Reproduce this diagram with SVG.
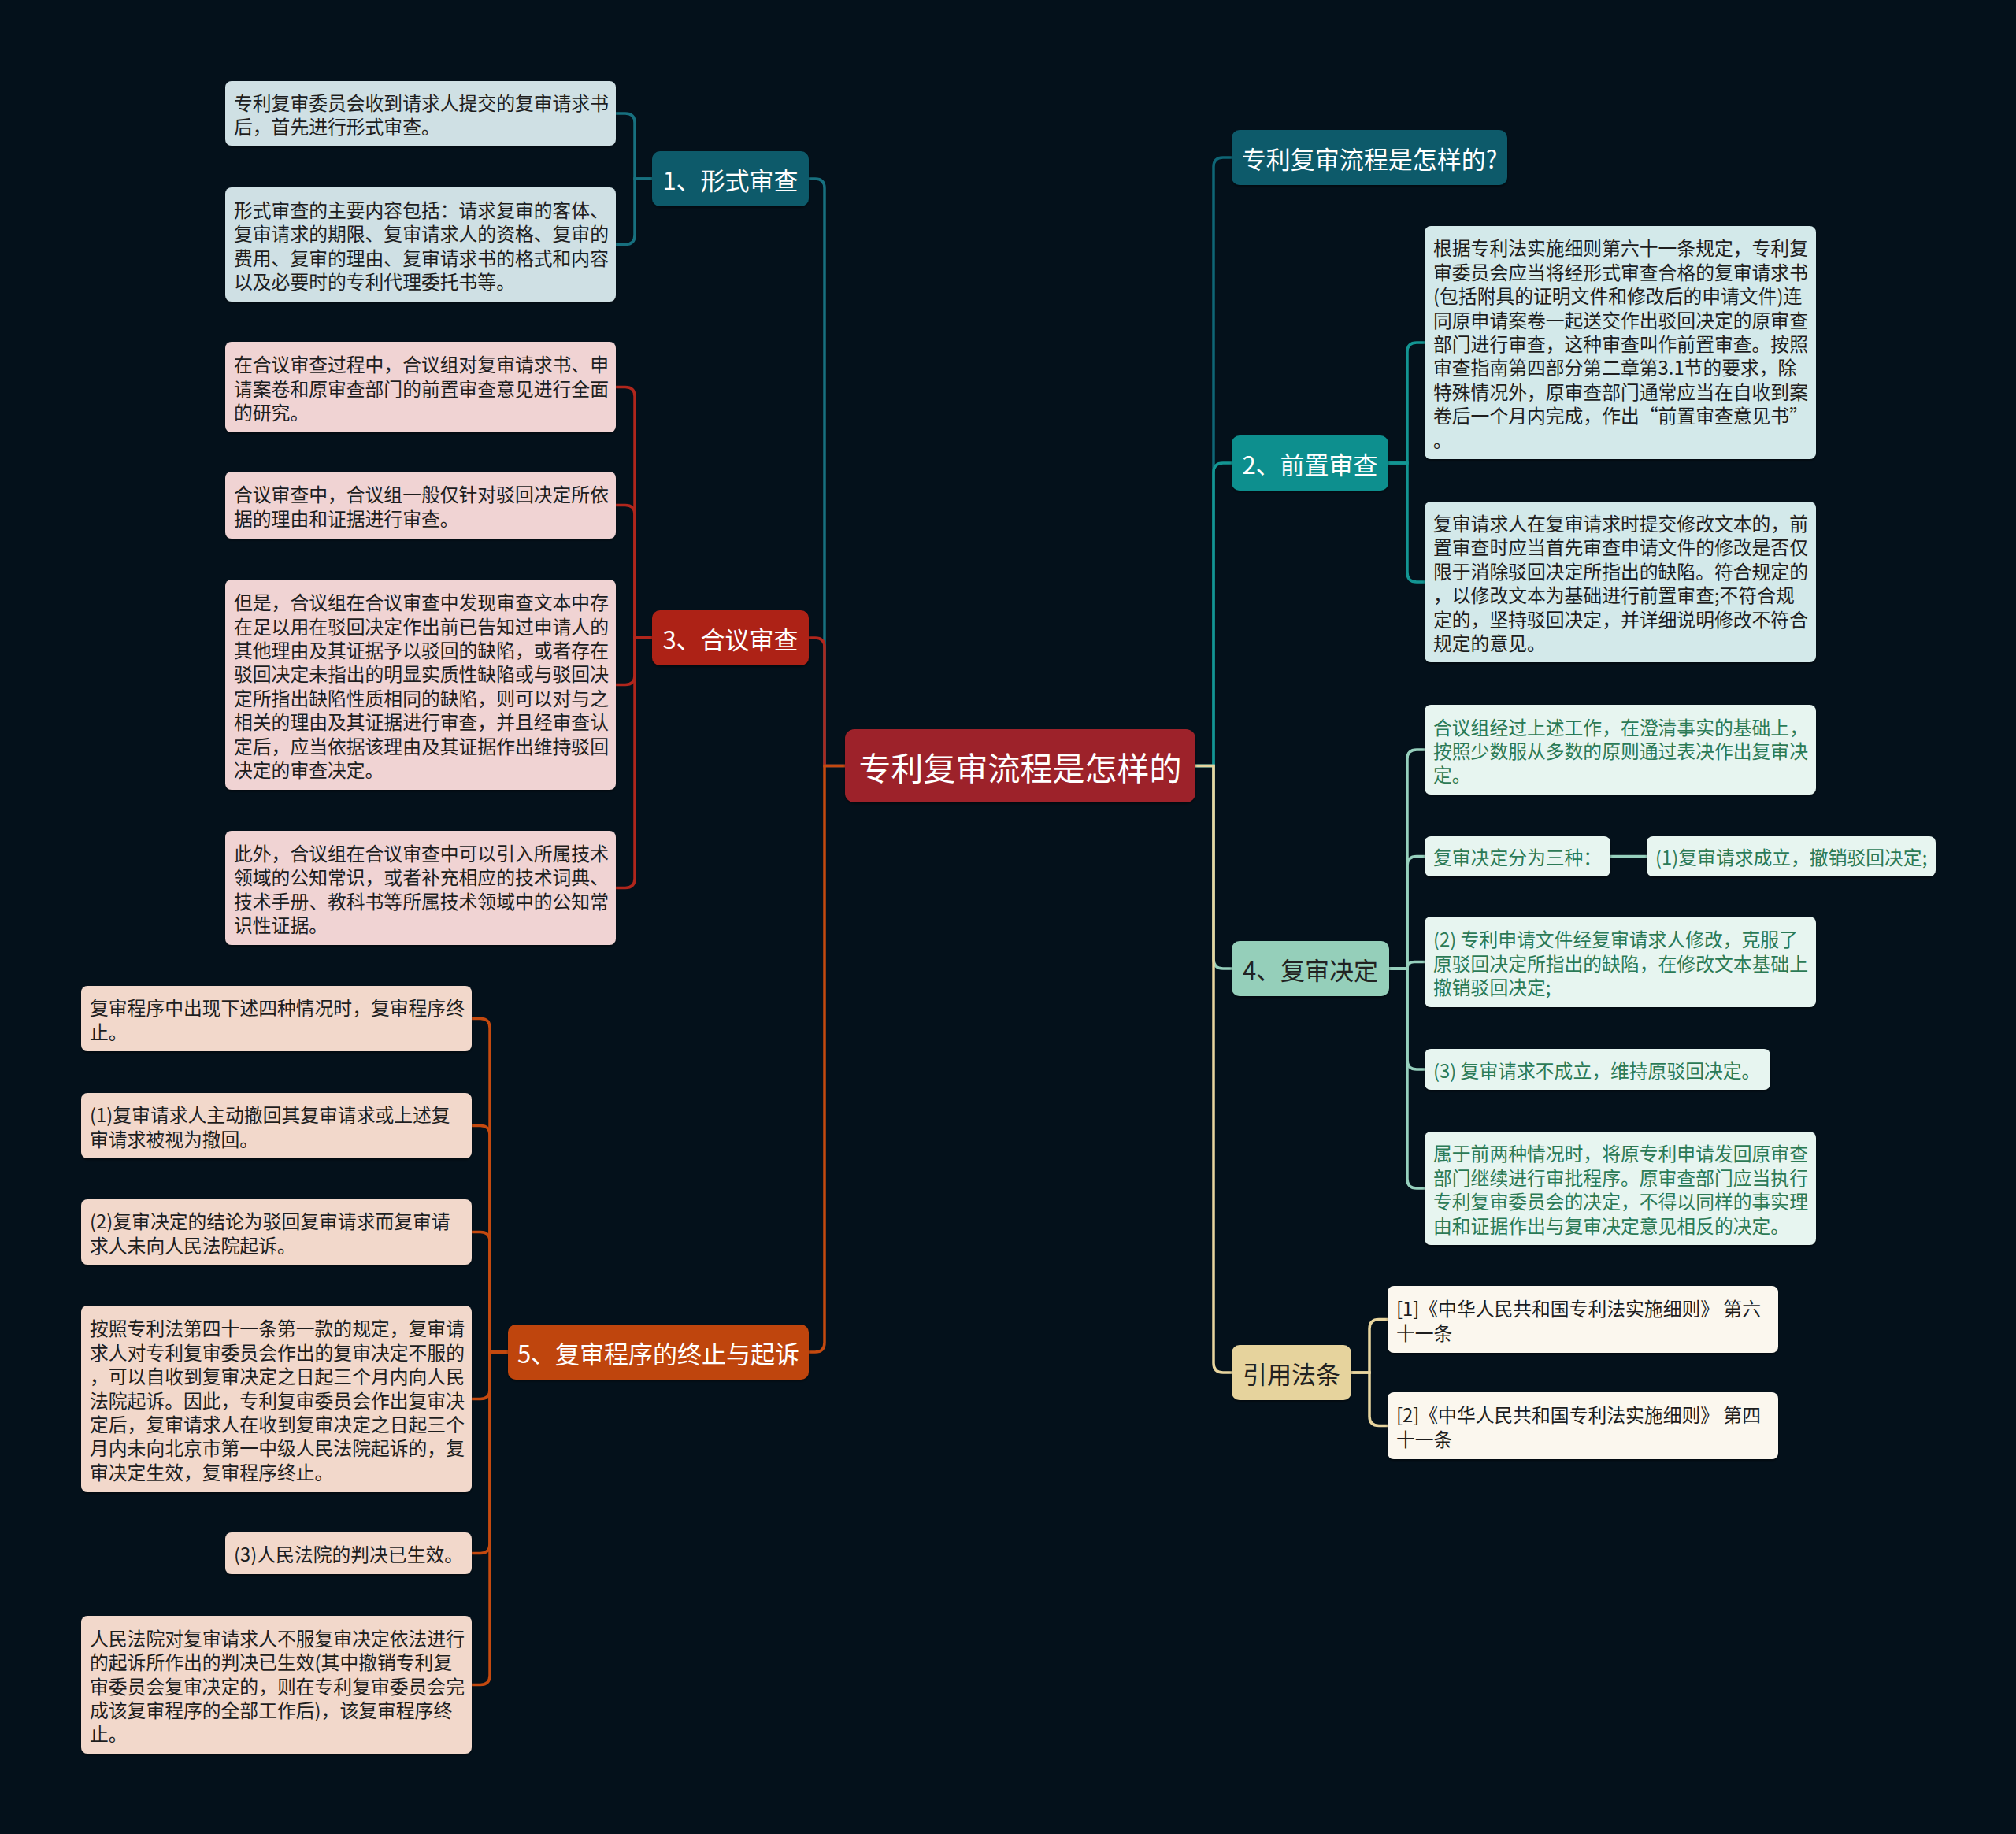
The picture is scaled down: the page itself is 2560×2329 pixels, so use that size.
<svg xmlns="http://www.w3.org/2000/svg" width="2560" height="2329" viewBox="0 0 2560 2329">
<defs>
<filter id="sh" x="-5%" y="-10%" width="110%" height="130%"><feDropShadow dx="0" dy="2" stdDeviation="1.5" flood-color="#000" flood-opacity="0.45"/></filter>
</defs>
<style>
text{font-family:"Noto Sans CJK SC","Noto Sans",sans-serif;dominant-baseline:central}
.c{fill:none;stroke-width:3.5;stroke-linecap:round}
.lf{font-size:23.8px;fill:#1e1e1e}
.lg{font-size:23.8px;fill:#2b7a56}
.br{font-size:31px;text-anchor:middle;fill:#fff}
.brd{font-size:31px;text-anchor:middle;fill:#222}
.l1{fill:#cfe0e4}.l3{fill:#f0d3d3}.l5{fill:#f2d8cb}.l2{fill:#d3e9ea}.l4{fill:#e7f5f0}.lr{fill:#fbf7ee}
</style>
<rect width="2560" height="2329" fill="#04111b"/>

<g id="connectors">
<path class="c" stroke="#17707f" d="M1073,972.5 H1047 V239 Q1047,227 1035,227 H1027"/>
<path class="c" stroke="#b0261c" d="M1073,972.5 H1047 V822 Q1047,810 1035,810 H1027"/>
<path class="c" stroke="#c4490f" d="M1073,972.5 H1047 V1705 Q1047,1717 1035,1717 H1027"/>
<path class="c" stroke="#0e6676" d="M1518,972.5 H1541 V212 Q1541,200 1553,200 H1564"/>
<path class="c" stroke="#139593" d="M1518,972.5 H1541 V600 Q1541,588 1553,588 H1564"/>
<path class="c" stroke="#96d0bd" d="M1518,972.5 H1541 V1218 Q1541,1230 1553,1230 H1564"/>
<path class="c" stroke="#e8d59e" d="M1518,972.5 H1541 V1731 Q1541,1743 1553,1743 H1564"/>

<path class="c" stroke="#17707f" d="M828,227 H806 V156 Q806,144 794,144 H782"/>
<path class="c" stroke="#17707f" d="M828,227 H806 V298.5 Q806,310.5 794,310.5 H782"/>

<path class="c" stroke="#b0261c" d="M828,810 H806 V503.5 Q806,491.5 794,491.5 H782"/>
<path class="c" stroke="#b0261c" d="M828,810 H806 V653.5 Q806,641.5 794,641.5 H782"/>
<path class="c" stroke="#b0261c" d="M828,810 H806 V857.5 Q806,869.5 794,869.5 H782"/>
<path class="c" stroke="#b0261c" d="M828,810 H806 V1115.5 Q806,1127.5 794,1127.5 H782"/>

<path class="c" stroke="#c4490f" d="M645,1717 H622 V1305.5 Q622,1293.5 610,1293.5 H599"/>
<path class="c" stroke="#c4490f" d="M645,1717 H622 V1441.5 Q622,1429.5 610,1429.5 H599"/>
<path class="c" stroke="#c4490f" d="M645,1717 H622 V1576.5 Q622,1564.5 610,1564.5 H599"/>
<path class="c" stroke="#c4490f" d="M645,1717 H622 V1764.5 Q622,1776.5 610,1776.5 H599"/>
<path class="c" stroke="#c4490f" d="M645,1717 H622 V1960.5 Q622,1972.5 610,1972.5 H599"/>
<path class="c" stroke="#c4490f" d="M645,1717 H622 V2127.5 Q622,2139.5 610,2139.5 H599"/>

<path class="c" stroke="#139593" d="M1763,588 H1787 V447 Q1787,435 1799,435 H1809"/>
<path class="c" stroke="#139593" d="M1763,588 H1787 V727 Q1787,739 1799,739 H1809"/>

<path class="c" stroke="#96d0bd" d="M1764,1230 H1787 V964 Q1787,952 1799,952 H1809"/>
<path class="c" stroke="#96d0bd" d="M1764,1230 H1787 V1099.5 Q1787,1087.5 1799,1087.5 H1809"/>
<path class="c" stroke="#96d0bd" d="M1764,1230 H1787 Q1787,1221.5 1795.5,1221.5 H1809"/>
<path class="c" stroke="#96d0bd" d="M1764,1230 H1787 V1346 Q1787,1358 1799,1358 H1809"/>
<path class="c" stroke="#96d0bd" d="M1764,1230 H1787 V1497 Q1787,1509 1799,1509 H1809"/>
<path class="c" stroke="#96d0bd" d="M2045,1087.5 H2091"/>

<path class="c" stroke="#e8d59e" d="M1716,1743 H1739 V1687.5 Q1739,1675.5 1751,1675.5 H1762"/>
<path class="c" stroke="#e8d59e" d="M1716,1743 H1739 V1798.5 Q1739,1810.5 1751,1810.5 H1762"/>
</g>

<g id="center">
<rect x="1073" y="926" width="445" height="93" rx="12" fill="#9d2329" filter="url(#sh)"/>
<text x="1295.5" y="972.5" font-size="41" text-anchor="middle" fill="#fff">专利复审流程是怎样的</text>
</g>

<g id="node-1">
<rect x="828" y="192" width="199" height="70" rx="10" fill="#0c5a6a" filter="url(#sh)"/>
<text class="br" x="927.5" y="227">1、形式审查</text>
</g>
<g id="leaf-1a">
<rect class="l1" x="286" y="103" width="496" height="82" rx="8" filter="url(#sh)"/>
<text class="lf"><tspan x="297" y="128.8">专利复审委员会收到请求人提交的复审请求书</tspan><tspan x="297" y="159.2">后，首先进行形式审查。</tspan></text>
</g>
<g id="leaf-1b">
<rect class="l1" x="286" y="238" width="496" height="145" rx="8" filter="url(#sh)"/>
<text class="lf"><tspan x="297" y="264.9">形式审查的主要内容包括：请求复审的客体、</tspan><tspan x="297" y="295.3">复审请求的期限、复审请求人的资格、复审的</tspan><tspan x="297" y="325.7">费用、复审的理由、复审请求书的格式和内容</tspan><tspan x="297" y="356.1">以及必要时的专利代理委托书等。</tspan></text>
</g>

<g id="node-3">
<rect x="828" y="775" width="199" height="70" rx="10" fill="#ad2116" filter="url(#sh)"/>
<text class="br" x="927.5" y="810">3、合议审查</text>
</g>
<g id="leaf-3a">
<rect class="l3" x="286" y="434" width="496" height="115" rx="8" filter="url(#sh)"/>
<text class="lf"><tspan x="297" y="461.1">在合议审查过程中，合议组对复审请求书、申</tspan><tspan x="297" y="491.5">请案卷和原审查部门的前置审查意见进行全面</tspan><tspan x="297" y="521.9">的研究。</tspan></text>
</g>
<g id="leaf-3b">
<rect class="l3" x="286" y="599" width="496" height="85" rx="8" filter="url(#sh)"/>
<text class="lf"><tspan x="297" y="626.3">合议审查中，合议组一般仅针对驳回决定所依</tspan><tspan x="297" y="656.7">据的理由和证据进行审查。</tspan></text>
</g>
<g id="leaf-3c">
<rect class="l3" x="286" y="736" width="496" height="267" rx="8" filter="url(#sh)"/>
<text class="lf"><tspan x="297" y="763.1">但是，合议组在合议审查中发现审查文本中存</tspan><tspan x="297" y="793.5">在足以用在驳回决定作出前已告知过申请人的</tspan><tspan x="297" y="823.9">其他理由及其证据予以驳回的缺陷，或者存在</tspan><tspan x="297" y="854.3">驳回决定未指出的明显实质性缺陷或与驳回决</tspan><tspan x="297" y="884.7">定所指出缺陷性质相同的缺陷，则可以对与之</tspan><tspan x="297" y="915.1">相关的理由及其证据进行审查，并且经审查认</tspan><tspan x="297" y="945.5">定后，应当依据该理由及其证据作出维持驳回</tspan><tspan x="297" y="975.9">决定的审查决定。</tspan></text>
</g>
<g id="leaf-3d">
<rect class="l3" x="286" y="1055" width="496" height="145" rx="8" filter="url(#sh)"/>
<text class="lf"><tspan x="297" y="1081.9">此外，合议组在合议审查中可以引入所属技术</tspan><tspan x="297" y="1112.3">领域的公知常识，或者补充相应的技术词典、</tspan><tspan x="297" y="1142.7">技术手册、教科书等所属技术领域中的公知常</tspan><tspan x="297" y="1173.1">识性证据。</tspan></text>
</g>

<g id="node-5">
<rect x="645" y="1682" width="382" height="70" rx="10" fill="#bf450d" filter="url(#sh)"/>
<text class="br" x="836" y="1717">5、复审程序的终止与起诉</text>
</g>
<g id="leaf-5a">
<rect class="l5" x="103" y="1252" width="496" height="83" rx="8" filter="url(#sh)"/>
<text class="lf"><tspan x="114" y="1278.3">复审程序中出现下述四种情况时，复审程序终</tspan><tspan x="114" y="1308.7">止。</tspan></text>
</g>
<g id="leaf-5b">
<rect class="l5" x="103" y="1388" width="496" height="83" rx="8" filter="url(#sh)"/>
<text class="lf"><tspan x="114" y="1414.3">(1)复审请求人主动撤回其复审请求或上述复</tspan><tspan x="114" y="1444.7">审请求被视为撤回。</tspan></text>
</g>
<g id="leaf-5c">
<rect class="l5" x="103" y="1523" width="496" height="83" rx="8" filter="url(#sh)"/>
<text class="lf"><tspan x="114" y="1549.3">(2)复审决定的结论为驳回复审请求而复审请</tspan><tspan x="114" y="1579.7">求人未向人民法院起诉。</tspan></text>
</g>
<g id="leaf-5d">
<rect class="l5" x="103" y="1658" width="496" height="237" rx="8" filter="url(#sh)"/>
<text class="lf"><tspan x="114" y="1685.3">按照专利法第四十一条第一款的规定，复审请</tspan><tspan x="114" y="1715.7">求人对专利复审委员会作出的复审决定不服的</tspan><tspan x="114" y="1746.1">，可以自收到复审决定之日起三个月内向人民</tspan><tspan x="114" y="1776.5">法院起诉。因此，专利复审委员会作出复审决</tspan><tspan x="114" y="1806.9">定后，复审请求人在收到复审决定之日起三个</tspan><tspan x="114" y="1837.3">月内未向北京市第一中级人民法院起诉的，复</tspan><tspan x="114" y="1867.7">审决定生效，复审程序终止。</tspan></text>
</g>
<g id="leaf-5e">
<rect class="l5" x="286" y="1946" width="313" height="53" rx="8" filter="url(#sh)"/>
<text class="lf" x="297" y="1972.5">(3)人民法院的判决已生效。</text>
</g>
<g id="leaf-5f">
<rect class="l5" x="103" y="2052" width="496" height="175" rx="8" filter="url(#sh)"/>
<text class="lf"><tspan x="114" y="2078.7">人民法院对复审请求人不服复审决定依法进行</tspan><tspan x="114" y="2109.1">的起诉所作出的判决已生效(其中撤销专利复</tspan><tspan x="114" y="2139.5">审委员会复审决定的，则在专利复审委员会完</tspan><tspan x="114" y="2169.9">成该复审程序的全部工作后)，该复审程序终</tspan><tspan x="114" y="2200.3">止。</tspan></text>
</g>

<g id="node-q">
<rect x="1564" y="165" width="350" height="70" rx="10" fill="#0c5a6a" filter="url(#sh)"/>
<text class="br" x="1739" y="200">专利复审流程是怎样的?</text>
</g>

<g id="node-2">
<rect x="1564" y="553" width="199" height="70" rx="10" fill="#0f8f8e" filter="url(#sh)"/>
<text class="br" x="1663.5" y="588">2、前置审查</text>
</g>
<g id="leaf-2a">
<rect class="l2" x="1809" y="287" width="497" height="296" rx="8" filter="url(#sh)"/>
<text class="lf"><tspan x="1820" y="313.4">根据专利法实施细则第六十一条规定，专利复</tspan><tspan x="1820" y="343.8">审委员会应当将经形式审查合格的复审请求书</tspan><tspan x="1820" y="374.2">(包括附具的证明文件和修改后的申请文件)连</tspan><tspan x="1820" y="404.6">同原申请案卷一起送交作出驳回决定的原审查</tspan><tspan x="1820" y="435">部门进行审查，这种审查叫作前置审查。按照</tspan><tspan x="1820" y="465.4">审查指南第四部分第二章第3.1节的要求，除</tspan><tspan x="1820" y="495.8">特殊情况外，原审查部门通常应当在自收到案</tspan><tspan x="1820" y="526.2">卷后一个月内完成，作出“前置审查意见书”</tspan><tspan x="1820" y="556.6">。</tspan></text>
</g>
<g id="leaf-2b">
<rect class="l2" x="1809" y="637" width="497" height="204" rx="8" filter="url(#sh)"/>
<text class="lf"><tspan x="1820" y="663">复审请求人在复审请求时提交修改文本的，前</tspan><tspan x="1820" y="693.4">置审查时应当首先审查申请文件的修改是否仅</tspan><tspan x="1820" y="723.8">限于消除驳回决定所指出的缺陷。符合规定的</tspan><tspan x="1820" y="754.2">，以修改文本为基础进行前置审查;不符合规</tspan><tspan x="1820" y="784.6">定的，坚持驳回决定，并详细说明修改不符合</tspan><tspan x="1820" y="815">规定的意见。</tspan></text>
</g>

<g id="node-4">
<rect x="1564" y="1195" width="200" height="70" rx="10" fill="#95cfba" filter="url(#sh)"/>
<text class="brd" x="1664" y="1230">4、复审决定</text>
</g>
<g id="leaf-4a">
<rect class="l4" x="1809" y="895" width="497" height="114" rx="8" filter="url(#sh)"/>
<text class="lg"><tspan x="1820" y="921.6">合议组经过上述工作，在澄清事实的基础上，</tspan><tspan x="1820" y="952">按照少数服从多数的原则通过表决作出复审决</tspan><tspan x="1820" y="982.4">定。</tspan></text>
</g>
<g id="leaf-4b">
<rect class="l4" x="1809" y="1062" width="236" height="51" rx="8" filter="url(#sh)"/>
<text class="lg" x="1820" y="1087.5">复审决定分为三种：</text>
</g>
<g id="leaf-4b1">
<rect class="l4" x="2091" y="1062" width="367" height="51" rx="8" filter="url(#sh)"/>
<text class="lg" x="2102" y="1087.5">(1)复审请求成立，撤销驳回决定;</text>
</g>
<g id="leaf-4c">
<rect class="l4" x="1809" y="1164" width="497" height="115" rx="8" filter="url(#sh)"/>
<text class="lg"><tspan x="1820" y="1191.1">(2) 专利申请文件经复审请求人修改，克服了</tspan><tspan x="1820" y="1221.5">原驳回决定所指出的缺陷，在修改文本基础上</tspan><tspan x="1820" y="1251.9">撤销驳回决定;</tspan></text>
</g>
<g id="leaf-4d">
<rect class="l4" x="1809" y="1332" width="439" height="52" rx="8" filter="url(#sh)"/>
<text class="lg" x="1820" y="1358">(3) 复审请求不成立，维持原驳回决定。</text>
</g>
<g id="leaf-4e">
<rect class="l4" x="1809" y="1437" width="497" height="144" rx="8" filter="url(#sh)"/>
<text class="lg"><tspan x="1820" y="1463.4">属于前两种情况时，将原专利申请发回原审查</tspan><tspan x="1820" y="1493.8">部门继续进行审批程序。原审查部门应当执行</tspan><tspan x="1820" y="1524.2">专利复审委员会的决定，不得以同样的事实理</tspan><tspan x="1820" y="1554.6">由和证据作出与复审决定意见相反的决定。</tspan></text>
</g>

<g id="node-ref">
<rect x="1564" y="1708" width="152" height="70" rx="10" fill="#e6d39d" filter="url(#sh)"/>
<text class="brd" x="1640" y="1743">引用法条</text>
</g>
<g id="leaf-r1">
<rect class="lr" x="1762" y="1633" width="496" height="85" rx="8" filter="url(#sh)"/>
<text class="lf"><tspan x="1773" y="1660.3">[1]《中华人民共和国专利法实施细则》 第六</tspan><tspan x="1773" y="1690.7">十一条</tspan></text>
</g>
<g id="leaf-r2">
<rect class="lr" x="1762" y="1768" width="496" height="85" rx="8" filter="url(#sh)"/>
<text class="lf"><tspan x="1773" y="1795.3">[2]《中华人民共和国专利法实施细则》 第四</tspan><tspan x="1773" y="1825.7">十一条</tspan></text>
</g>
</svg>
